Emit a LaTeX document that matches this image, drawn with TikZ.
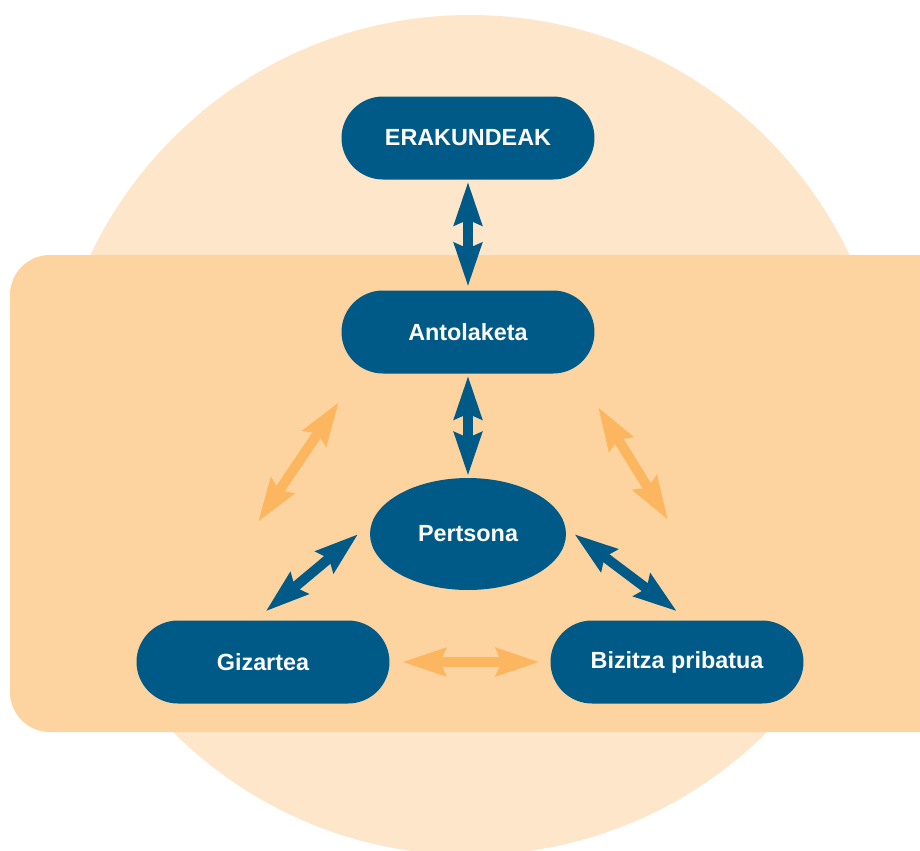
\documentclass[tikz,border=0pt]{standalone}
\usepackage{fontspec}
\setmainfont{Liberation Sans}
\usetikzlibrary{arrows.meta,shapes.geometric}
\definecolor{circlebg}{HTML}{FDE6C9}
\definecolor{rectbg}{HTML}{FDD39F}
\definecolor{darkblue}{HTML}{005A87}
\definecolor{lightorange}{HTML}{FDB660}
\tikzset{
  box/.style={draw=none, fill=darkblue, text=white, font=\bfseries\fontsize{13.3}{15}\selectfont,
    minimum width=5.06cm, minimum height=1.66cm, rounded corners=0.83cm, inner sep=0pt},
  oval/.style={ellipse, fill=darkblue, text=white, font=\bfseries\fontsize{13.3}{15}\selectfont,
    minimum width=3.92cm, minimum height=2.24cm, inner sep=0pt},
  dblarrow/.style={line width=0.2cm, {Stealth[length=0.86cm, width=0.54cm, inset=0.1cm]}-{Stealth[length=0.86cm, width=0.54cm, inset=0.1cm]}},
  bluearrow/.style={dblarrow, draw=darkblue},
  orangearrow/.style={dblarrow, draw=lightorange}
}
\begin{document}
\begin{tikzpicture}[x=0.02cm, y=-0.02cm]
    \clip (0,0) rectangle (920,850);
    \fill[circlebg] (470,435) circle (420);
    \fill[rectbg, rounded corners=0.8cm] (10,255) rectangle (980,732);

    \node[box] (era) at (468,138) {ERAKUNDEAK};
    \node[box] (ant) at (468,332) {Antolaketa};
    \node[oval] (per) at (468,534) {Pertsona};
    \node[box] (giz) at (263,662) {Gizartea};
    \node[box] (biz) at (677,662) {Bizitza pribatua};

    \coordinate (ola) at (339,402);
    \coordinate (olb) at (258,522);
    \coordinate (ora) at (598,407);
    \coordinate (orb) at (668,520);

    \draw[bluearrow, shorten <=1pt, shorten >=2pt] (era) -- (ant);
    \draw[bluearrow, shorten <=1pt, shorten >=1pt] (ant) -- (per);
    \draw[bluearrow] ([xshift=-6.5pt]per.west) -- ([xshift=1.5pt, yshift=5pt]giz.north);
    \draw[bluearrow] ([xshift=4.5pt]per.east) -- ([yshift=5pt]biz.north);

    \draw[orangearrow] (ola) -- (olb);
    \draw[orangearrow] (ora) -- (orb);
    \draw[orangearrow, shorten <=7pt, shorten >=6pt] (giz) -- (biz);
\end{tikzpicture}
\end{document}
